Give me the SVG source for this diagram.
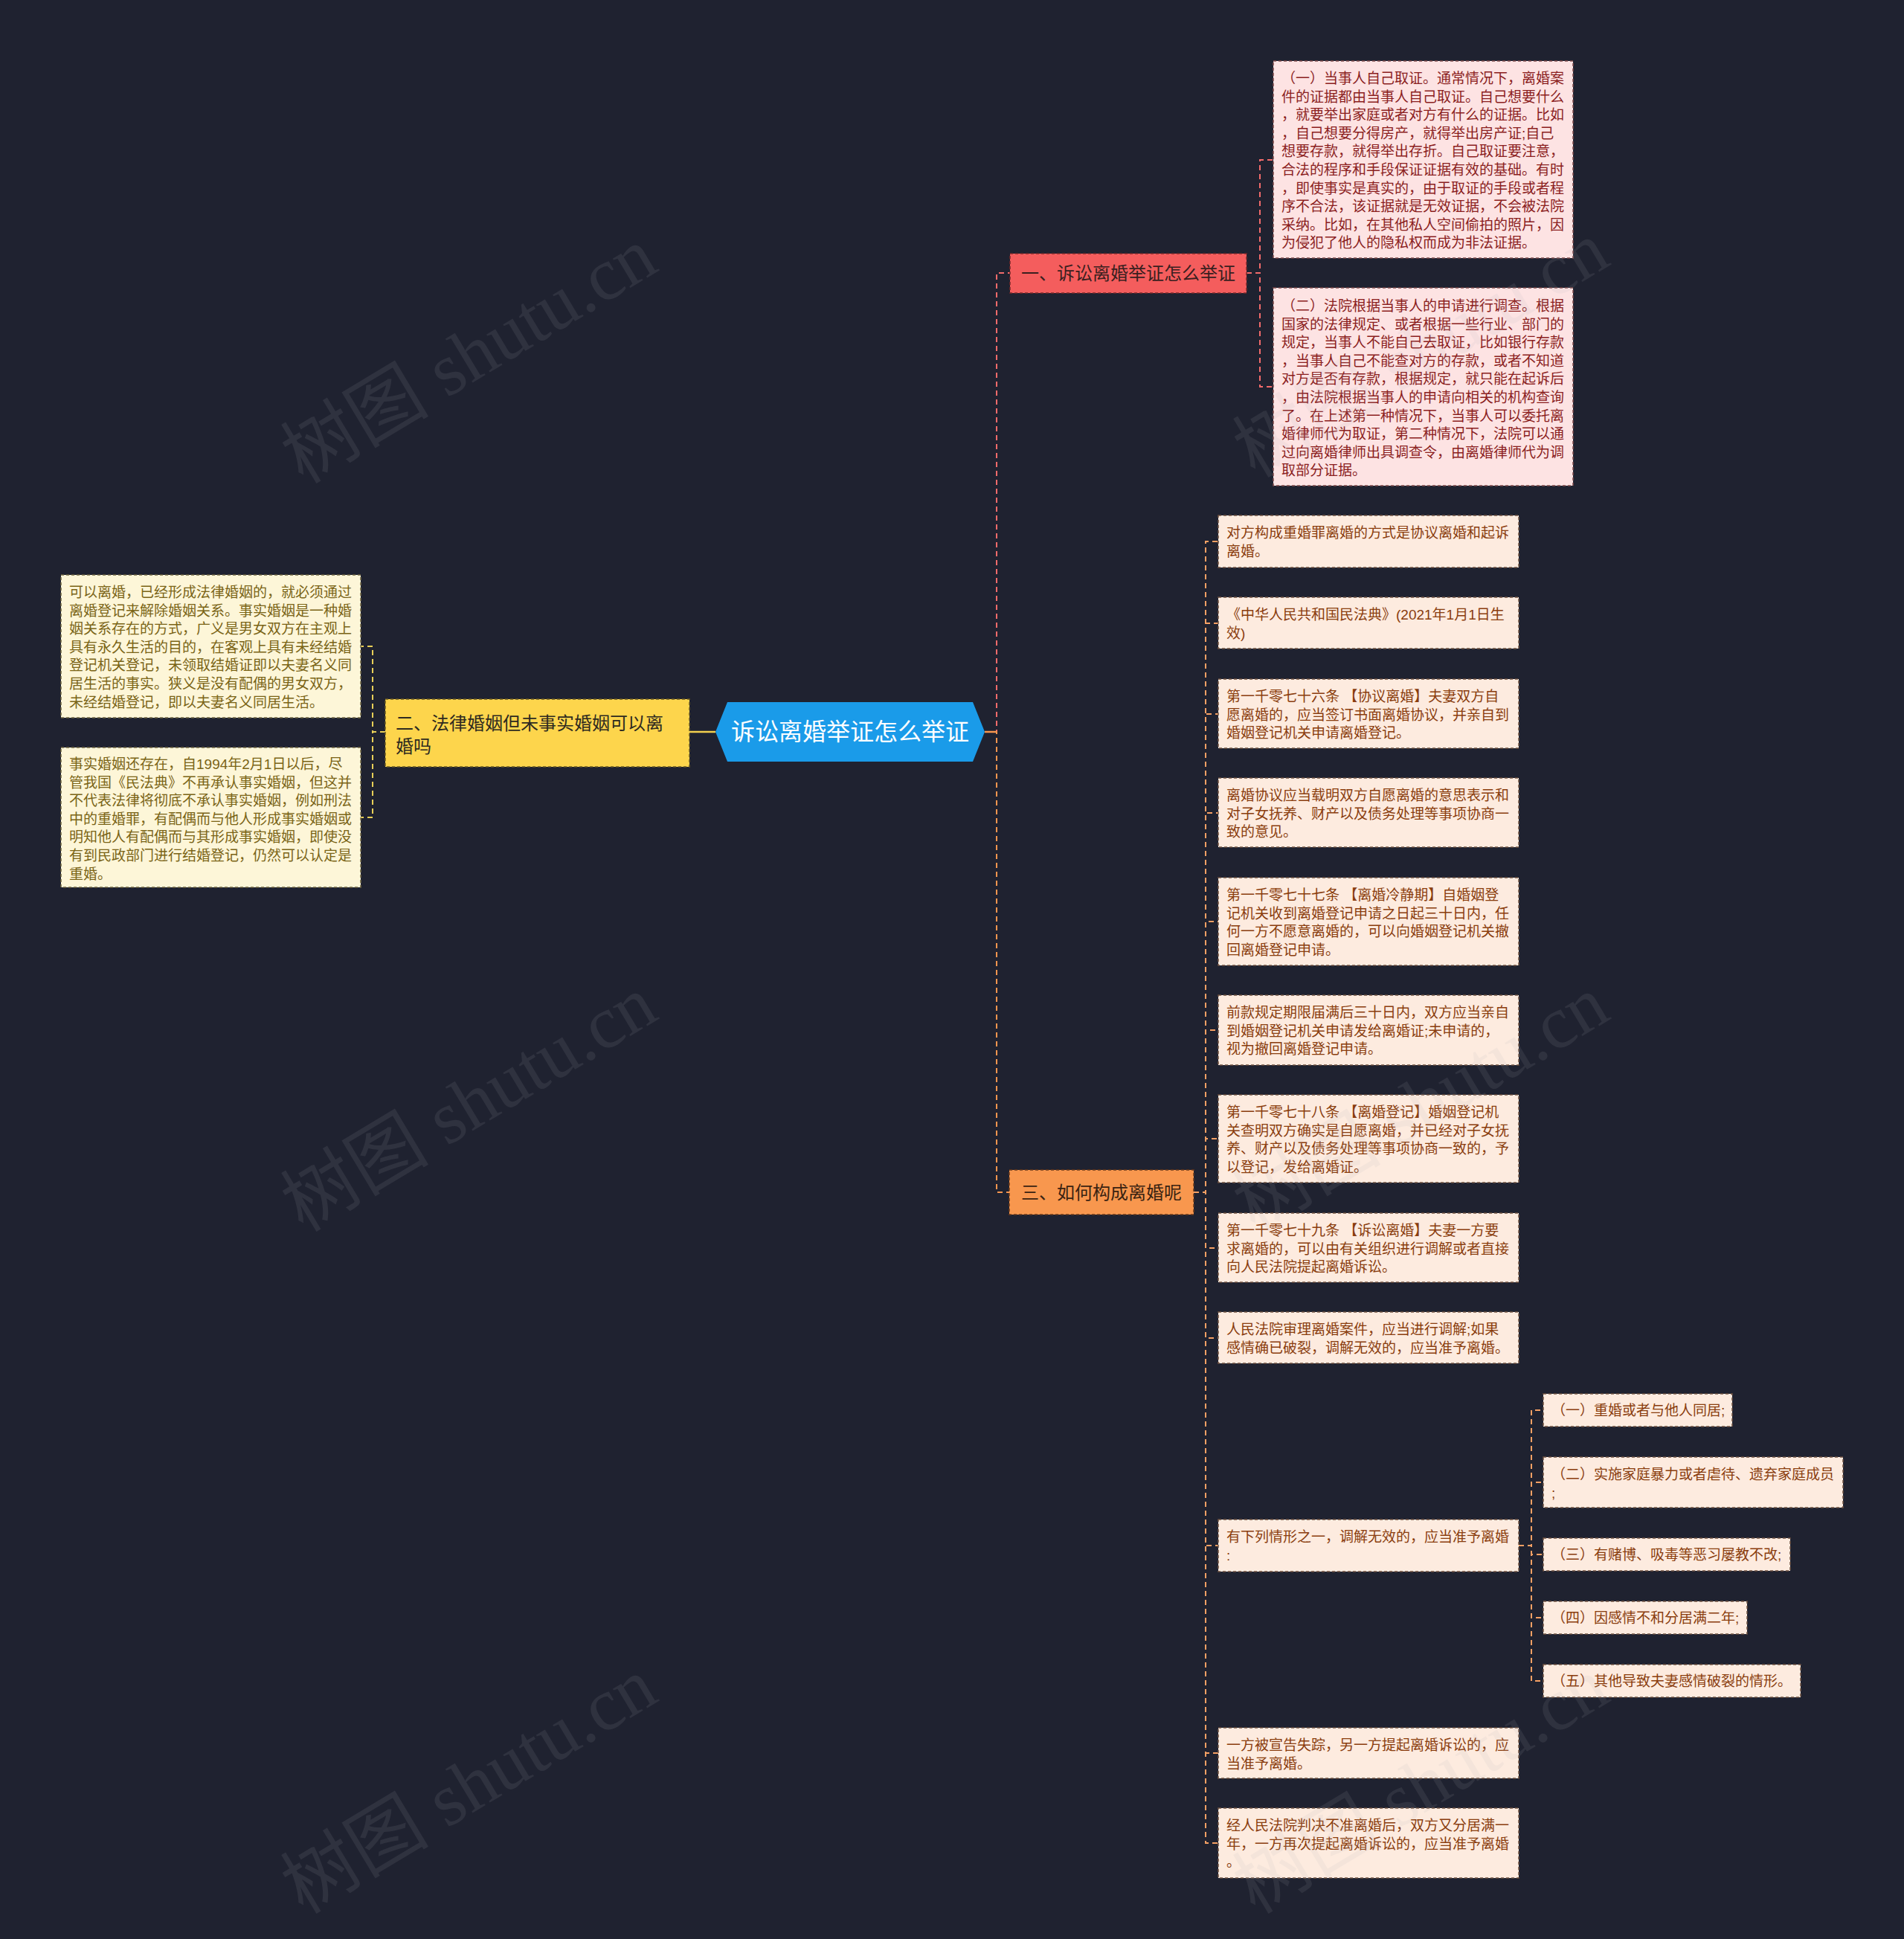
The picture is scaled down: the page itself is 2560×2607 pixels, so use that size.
<svg xmlns="http://www.w3.org/2000/svg" width="2560" height="2607" viewBox="0 0 2560 2607">
<style>
text{font-family:"Liberation Sans","Noto Sans CJK SC",sans-serif;dominant-baseline:central}
.bx{stroke-dasharray:4 3;stroke-width:1.5}
.rb{fill:#fde3e3;stroke:#7c4a4a}
.lb{fill:#fdf6d8;stroke:#6e6440}
.cb{fill:#fdebdf;stroke:#6e5240}
.rt{fill:#8b1e1e;font-size:19px}
.lt{fill:#7a6416;font-size:19px}
.ct{fill:#8a3d0e;font-size:19px}
.mt{font-size:24px}
.con{fill:none;stroke-width:2;stroke-dasharray:7 5}
.wm{font-family:"Liberation Serif","Noto Sans CJK SC",serif;font-size:100px;fill:#b0b0b8;opacity:0.11;dominant-baseline:auto}
</style>
<rect width="2560" height="2607" fill="#1f2230"/>
<g id="connectors">
<path class="con" stroke="#f26b6b" d="M1324 984 H1340 V367 H1358"/>
<path class="con" stroke="#f7964f" d="M1324 984 H1340 V1603 H1357"/>
<path fill="none" stroke="#f7964f" stroke-width="2.5" d="M1324 984 H1340"/>
<path fill="none" stroke="#f2d04e" stroke-width="2.5" d="M962 984 H927"/>
<path class="con" stroke="#e8cf58" d="M518 984 H501 V869 H485"/>
<path class="con" stroke="#e8cf58" d="M518 984 H501 V1099 H485"/>
<path class="con" stroke="#f26b6b" d="M1676 367 H1694 V215 H1712"/>
<path class="con" stroke="#f26b6b" d="M1676 367 H1694 V520 H1712"/>
<path class="con" stroke="#f5a064" d="M1605 1603 H1621 V728 H1638"/>
<path class="con" stroke="#f5a064" d="M1605 1603 H1621 V838 H1638"/>
<path class="con" stroke="#f5a064" d="M1605 1603 H1621 V960 H1638"/>
<path class="con" stroke="#f5a064" d="M1605 1603 H1621 V1093 H1638"/>
<path class="con" stroke="#f5a064" d="M1605 1603 H1621 V1239 H1638"/>
<path class="con" stroke="#f5a064" d="M1605 1603 H1621 V1385 H1638"/>
<path class="con" stroke="#f5a064" d="M1605 1603 H1621 V1531 H1638"/>
<path class="con" stroke="#f5a064" d="M1605 1603 H1621 V1678 H1638"/>
<path class="con" stroke="#f5a064" d="M1605 1603 H1621 V1799 H1638"/>
<path class="con" stroke="#f5a064" d="M1605 1603 H1621 V2078 H1638"/>
<path class="con" stroke="#f5a064" d="M1605 1603 H1621 V2357 H1638"/>
<path class="con" stroke="#f5a064" d="M1605 1603 H1621 V2478 H1638"/>
<path class="con" stroke="#f5a064" d="M2042 2078 H2059 V1896 H2075"/>
<path class="con" stroke="#f5a064" d="M2042 2078 H2059 V1993 H2075"/>
<path class="con" stroke="#f5a064" d="M2042 2078 H2059 V2090 H2075"/>
<path class="con" stroke="#f5a064" d="M2042 2078 H2059 V2175 H2075"/>
<path class="con" stroke="#f5a064" d="M2042 2078 H2059 V2260 H2075"/>
</g>
<g id="root">
<polygon points="962,984 978,944 1308,944 1324,984 1308,1024 978,1024" fill="#1a9be9"/>
<text x="1143" y="984" text-anchor="middle" fill="#ffffff" font-size="32">诉讼离婚举证怎么举证</text>
</g>
<g id="n1">
<rect class="bx" x="1358" y="341" width="318" height="53" fill="#f45d5d" stroke="#7a2a2a"/>
<text class="mt" x="1517" y="367" text-anchor="middle" fill="#3a1f1f">一、诉讼离婚举证怎么举证</text>
</g>
<g id="n2">
<rect class="bx" x="518" y="940" width="409" height="91" fill="#fdd54c" stroke="#6a5a20"/>
<text class="mt" fill="#2e2a20"><tspan x="532" y="972">二、法律婚姻但未事实婚姻可以离</tspan><tspan x="532" y="1003">婚吗</tspan></text>
</g>
<g id="n3">
<rect class="bx" x="1357" y="1573" width="248" height="60" fill="#f8974e" stroke="#6a3a1a"/>
<text class="mt" x="1481" y="1603" text-anchor="middle" fill="#3a2312">三、如何构成离婚呢</text>
</g>
<g id="r1">
<rect class="bx rb" x="1712" y="82" width="403" height="265"/>
<text class="rt"><tspan x="1723" y="105">（一）当事人自己取证。通常情况下，离婚案</tspan><tspan x="1723" y="129.6">件的证据都由当事人自己取证。自己想要什么</tspan><tspan x="1723" y="154.2">，就要举出家庭或者对方有什么的证据。比如</tspan><tspan x="1723" y="178.8">，自己想要分得房产，就得举出房产证;自己</tspan><tspan x="1723" y="203.4">想要存款，就得举出存折。自己取证要注意，</tspan><tspan x="1723" y="228">合法的程序和手段保证证据有效的基础。有时</tspan><tspan x="1723" y="252.6">，即使事实是真实的，由于取证的手段或者程</tspan><tspan x="1723" y="277.2">序不合法，该证据就是无效证据，不会被法院</tspan><tspan x="1723" y="301.8">采纳。比如，在其他私人空间偷拍的照片，因</tspan><tspan x="1723" y="326.4">为侵犯了他人的隐私权而成为非法证据。</tspan></text>
</g>
<g id="r2">
<rect class="bx rb" x="1712" y="387" width="403" height="266"/>
<text class="rt"><tspan x="1723" y="411">（二）法院根据当事人的申请进行调查。根据</tspan><tspan x="1723" y="435.6">国家的法律规定、或者根据一些行业、部门的</tspan><tspan x="1723" y="460.2">规定，当事人不能自己去取证，比如银行存款</tspan><tspan x="1723" y="484.8">，当事人自己不能查对方的存款，或者不知道</tspan><tspan x="1723" y="509.4">对方是否有存款，根据规定，就只能在起诉后</tspan><tspan x="1723" y="534">，由法院根据当事人的申请向相关的机构查询</tspan><tspan x="1723" y="558.6">了。在上述第一种情况下，当事人可以委托离</tspan><tspan x="1723" y="583.2">婚律师代为取证，第二种情况下，法院可以通</tspan><tspan x="1723" y="607.8">过向离婚律师出具调查令，由离婚律师代为调</tspan><tspan x="1723" y="632.4">取部分证据。</tspan></text>
</g>
<g id="l1">
<rect class="bx lb" x="82" y="773" width="403" height="192"/>
<text class="lt"><tspan x="93" y="796">可以离婚，已经形成法律婚姻的，就必须通过</tspan><tspan x="93" y="820.6">离婚登记来解除婚姻关系。事实婚姻是一种婚</tspan><tspan x="93" y="845.2">姻关系存在的方式，广义是男女双方在主观上</tspan><tspan x="93" y="869.8">具有永久生活的目的，在客观上具有未经结婚</tspan><tspan x="93" y="894.4">登记机关登记，未领取结婚证即以夫妻名义同</tspan><tspan x="93" y="919">居生活的事实。狭义是没有配偶的男女双方，</tspan><tspan x="93" y="943.6">未经结婚登记，即以夫妻名义同居生活。</tspan></text>
</g>
<g id="l2">
<rect class="bx lb" x="82" y="1005" width="403" height="188"/>
<text class="lt"><tspan x="93" y="1027">事实婚姻还存在，自1994年2月1日以后，尽</tspan><tspan x="93" y="1051.6">管我国《民法典》不再承认事实婚姻，但这并</tspan><tspan x="93" y="1076.2">不代表法律将彻底不承认事实婚姻，例如刑法</tspan><tspan x="93" y="1100.8">中的重婚罪，有配偶而与他人形成事实婚姻或</tspan><tspan x="93" y="1125.4">明知他人有配偶而与其形成事实婚姻，即使没</tspan><tspan x="93" y="1150">有到民政部门进行结婚登记，仍然可以认定是</tspan><tspan x="93" y="1174.6">重婚。</tspan></text>
</g>
<g id="c1">
<rect class="bx cb" x="1638" y="693" width="404" height="70"/>
<text class="ct"><tspan x="1649" y="716">对方构成重婚罪离婚的方式是协议离婚和起诉</tspan><tspan x="1649" y="740.6">离婚。</tspan></text>
</g>
<g id="c2">
<rect class="bx cb" x="1638" y="803" width="404" height="69"/>
<text class="ct"><tspan x="1649" y="826">《中华人民共和国民法典》(2021年1月1日生</tspan><tspan x="1649" y="850.6">效)</tspan></text>
</g>
<g id="c3">
<rect class="bx cb" x="1638" y="913" width="404" height="93"/>
<text class="ct"><tspan x="1649" y="936">第一千零七十六条 【协议离婚】夫妻双方自</tspan><tspan x="1649" y="960.6">愿离婚的，应当签订书面离婚协议，并亲自到</tspan><tspan x="1649" y="985.2">婚姻登记机关申请离婚登记。</tspan></text>
</g>
<g id="c4">
<rect class="bx cb" x="1638" y="1046" width="404" height="93"/>
<text class="ct"><tspan x="1649" y="1069">离婚协议应当载明双方自愿离婚的意思表示和</tspan><tspan x="1649" y="1093.6">对子女抚养、财产以及债务处理等事项协商一</tspan><tspan x="1649" y="1118.2">致的意见。</tspan></text>
</g>
<g id="c5">
<rect class="bx cb" x="1638" y="1180" width="404" height="118"/>
<text class="ct"><tspan x="1649" y="1203">第一千零七十七条 【离婚冷静期】自婚姻登</tspan><tspan x="1649" y="1227.6">记机关收到离婚登记申请之日起三十日内，任</tspan><tspan x="1649" y="1252.2">何一方不愿意离婚的，可以向婚姻登记机关撤</tspan><tspan x="1649" y="1276.8">回离婚登记申请。</tspan></text>
</g>
<g id="c6">
<rect class="bx cb" x="1638" y="1338" width="404" height="94"/>
<text class="ct"><tspan x="1649" y="1361">前款规定期限届满后三十日内，双方应当亲自</tspan><tspan x="1649" y="1385.6">到婚姻登记机关申请发给离婚证;未申请的，</tspan><tspan x="1649" y="1410.2">视为撤回离婚登记申请。</tspan></text>
</g>
<g id="c7">
<rect class="bx cb" x="1638" y="1472" width="404" height="118"/>
<text class="ct"><tspan x="1649" y="1495">第一千零七十八条 【离婚登记】婚姻登记机</tspan><tspan x="1649" y="1519.6">关查明双方确实是自愿离婚，并已经对子女抚</tspan><tspan x="1649" y="1544.2">养、财产以及债务处理等事项协商一致的，予</tspan><tspan x="1649" y="1568.8">以登记，发给离婚证。</tspan></text>
</g>
<g id="c8">
<rect class="bx cb" x="1638" y="1631" width="404" height="93"/>
<text class="ct"><tspan x="1649" y="1654">第一千零七十九条 【诉讼离婚】夫妻一方要</tspan><tspan x="1649" y="1678.6">求离婚的，可以由有关组织进行调解或者直接</tspan><tspan x="1649" y="1703.2">向人民法院提起离婚诉讼。</tspan></text>
</g>
<g id="c9">
<rect class="bx cb" x="1638" y="1764" width="404" height="69"/>
<text class="ct"><tspan x="1649" y="1787">人民法院审理离婚案件，应当进行调解;如果</tspan><tspan x="1649" y="1811.6">感情确已破裂，调解无效的，应当准予离婚。</tspan></text>
</g>
<g id="c10">
<rect class="bx cb" x="1638" y="2043" width="404" height="70"/>
<text class="ct"><tspan x="1649" y="2066">有下列情形之一，调解无效的，应当准予离婚</tspan><tspan x="1649" y="2090.6">:</tspan></text>
</g>
<g id="c11">
<rect class="bx cb" x="1638" y="2323" width="404" height="68"/>
<text class="ct"><tspan x="1649" y="2346">一方被宣告失踪，另一方提起离婚诉讼的，应</tspan><tspan x="1649" y="2370.6">当准予离婚。</tspan></text>
</g>
<g id="c12">
<rect class="bx cb" x="1638" y="2431" width="404" height="94"/>
<text class="ct"><tspan x="1649" y="2454">经人民法院判决不准离婚后，双方又分居满一</tspan><tspan x="1649" y="2478.6">年，一方再次提起离婚诉讼的，应当准予离婚</tspan><tspan x="1649" y="2503.2">。</tspan></text>
</g>
<g id="d1">
<rect class="bx cb" x="2075" y="1874" width="254" height="44"/>
<text class="ct" x="2086" y="1896">（一）重婚或者与他人同居;</text>
</g>
<g id="d2">
<rect class="bx cb" x="2075" y="1959" width="403" height="68"/>
<text class="ct"><tspan x="2086" y="1982">（二）实施家庭暴力或者虐待、遗弃家庭成员</tspan><tspan x="2086" y="2006.6">;</tspan></text>
</g>
<g id="d3">
<rect class="bx cb" x="2075" y="2068" width="332" height="44"/>
<text class="ct" x="2086" y="2090">（三）有赌博、吸毒等恶习屡教不改;</text>
</g>
<g id="d4">
<rect class="bx cb" x="2075" y="2153" width="274" height="44"/>
<text class="ct" x="2086" y="2175">（四）因感情不和分居满二年;</text>
</g>
<g id="d5">
<rect class="bx cb" x="2075" y="2238" width="346" height="44"/>
<text class="ct" x="2086" y="2260">（五）其他导致夫妻感情破裂的情形。</text>
</g>
<g id="watermarks">
<text class="wm" transform="translate(648 507) rotate(-31)" text-anchor="middle">树图 shutu.cn</text>
<text class="wm" transform="translate(648 1513) rotate(-31)" text-anchor="middle">树图 shutu.cn</text>
<text class="wm" transform="translate(648 2430) rotate(-31)" text-anchor="middle">树图 shutu.cn</text>
<text class="wm" transform="translate(1928 499) rotate(-31)" text-anchor="middle">树图 shutu.cn</text>
<text class="wm" transform="translate(1928 1513) rotate(-31)" text-anchor="middle">树图 shutu.cn</text>
<text class="wm" transform="translate(1928 2430) rotate(-31)" text-anchor="middle">树图 shutu.cn</text>
</g>
</svg>
